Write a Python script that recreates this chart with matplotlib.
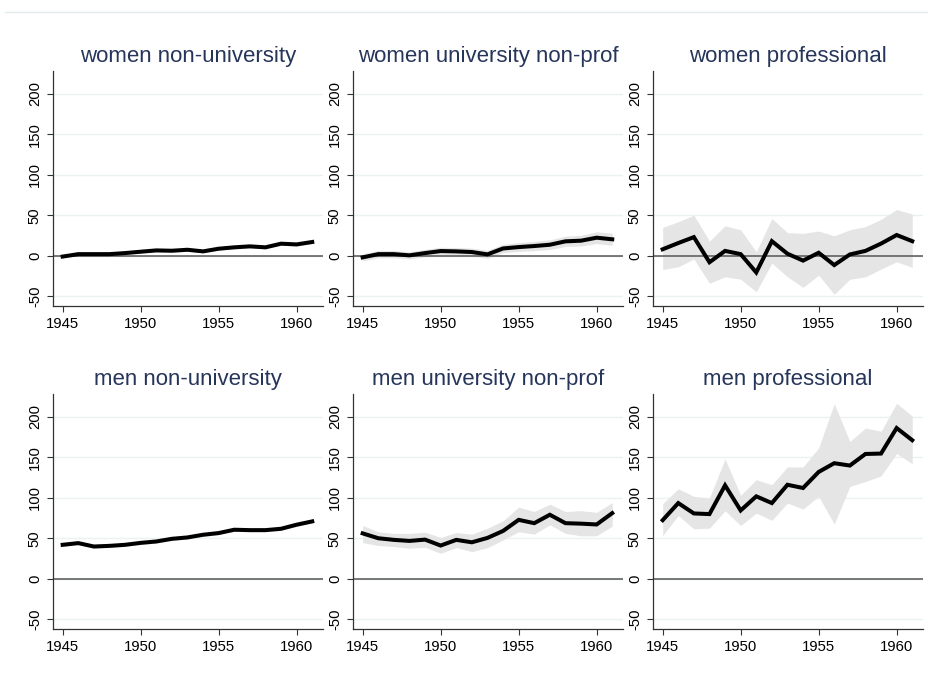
import matplotlib
matplotlib.use("Agg")
import matplotlib.pyplot as plt
from matplotlib.lines import Line2D

plt.rcParams['font.family'] = ['Liberation Sans', 'DejaVu Sans']

years = list(range(1945, 1962))

titles = ["women non-university", "women university non-prof", "women professional",
          "men non-university", "men university non-prof", "men professional"]

# women non-university
wnu_est = [-1, 2, 2, 2, 3.3, 5, 6.6, 6.2, 7.4, 5.4, 8.7, 10.4, 11.6, 10.4, 14.9, 14, 17]
wnu_lo = [-2.5, 0.5, 0.5, 0.5, 1.8, 3.5, 5, 4.6, 5.8, 3.8, 7, 8.6, 9.8, 8.6, 13, 12, 15]
wnu_hi = [0.5, 3.5, 3.5, 3.5, 4.8, 6.5, 8.2, 7.8, 9, 7, 10.4, 12.2, 13.4, 12.2, 16.8, 16, 19]

# women university non-prof
wun_est = [-2, 2, 2, 0.5, 3.3, 5.8, 5.4, 4.6, 1.7, 9, 10.7, 12, 13.6, 17.8, 18.6, 22.3, 20.3]
wun_lo = [-6.5, -2.5, -2.5, -4, -1.3, 1.2, 0.7, -0.2, -3.3, 3.8, 5.2, 6.3, 7.6, 11.5, 12, 15, 12.8]
wun_hi = [2.5, 6.5, 6.5, 5, 7.9, 10.4, 10.1, 9.4, 6.7, 14.2, 16.2, 17.7, 19.6, 24.1, 25.2, 29.6, 27.8]

# women professional
wp_est = [8, 15.7, 23, -8, 6, 2, -20.6, 18, 2.5, -6, 3.7, -11.5, 1.6, 6, 15, 25.6, 18]
wp_lo = [-17, -13.6, -4, -34, -26, -29, -44.5, -9, -26, -39, -24, -47.5, -29, -26, -16.5, -7.4, -14.4]
wp_hi = [35, 42, 50, 18, 37, 32, 5, 46, 28.5, 27.6, 30.5, 24.7, 32, 36, 45, 57, 51.5]

# men non-university
mnu_est = [41.9, 44, 39.8, 40.6, 41.9, 44.3, 46, 49.3, 51, 54.3, 56.4, 60.5, 60, 60, 61.7, 66.7, 70.8]
mnu_lo = [39.9, 42, 37.8, 38.6, 39.9, 42.3, 44, 47.3, 49, 52.3, 54.4, 58.5, 58, 58, 59.7, 64.7, 68.8]
mnu_hi = [43.9, 46, 41.8, 42.6, 43.9, 46.3, 48, 51.3, 53, 56.3, 58.4, 62.5, 62, 62, 63.7, 68.7, 72.8]

# men university non-prof
mun_est = [56, 50, 48, 46.7, 48.3, 41, 48, 45, 50.4, 59, 72.7, 68.6, 79, 68.6, 68, 67, 81]
mun_lo = [44.6, 41, 39.7, 37.6, 38.8, 31.4, 38.4, 33.5, 38.4, 48, 58, 55, 66.5, 56, 53, 53, 65]
mun_hi = [65.7, 58, 56, 56, 57.4, 51, 57, 55, 62.4, 71.5, 88.4, 83, 92, 83, 84, 82, 94]

# men professional
mp_est = [72.3, 93.4, 80.6, 79.8, 115.3, 84.3, 101.7, 93.4, 116, 112, 131.8, 142.6, 139.7, 154, 154.5, 186, 171]
mp_lo = [53.3, 78, 61.6, 62.4, 84, 65.7, 81, 72, 93.4, 86, 101.7, 67.4, 114, 120, 127, 154.5, 142]
mp_hi = [92.6, 111, 101.7, 99.6, 148, 103, 122.3, 116, 138, 138, 161.6, 216, 169.4, 186, 182, 216.5, 200.8]

estimates = [wnu_est, wun_est, wp_est, mnu_est, mun_est, mp_est]
lowers = [wnu_lo, wun_lo, wp_lo, mnu_lo, mun_lo, mp_lo]
uppers = [wnu_hi, wun_hi, wp_hi, mnu_hi, mun_hi, mp_hi]

xticks = [1945, 1950, 1955, 1960]
yticks = [-50, 0, 50, 100, 150, 200]

W, H = 929, 678
fig = plt.figure(figsize=(W / 100, H / 100), dpi=100)
fig.patch.set_facecolor('white')

# light frame line at the top
fig.add_artist(Line2D([5 / W, 1.0], [1 - 12 / H, 1 - 12 / H], color='#e3ebee', lw=1.0))

ax_w = 270
ax_h = 235
lefts = [53, 353, 653]
tops = [71, 394]

for i in range(6):
    r, c = divmod(i, 3)
    left = lefts[c]
    top = tops[r]
    ax = fig.add_axes([left / W, 1 - (top + ax_h) / H, ax_w / W, ax_h / H])
    ax.set_xlim(1944.38, 1961.69)
    ax.set_ylim(-62, 228)
    for yt in yticks:
        ax.axhline(yt, color='#eaf2f3', lw=1.0, zorder=0)
    ax.fill_between(years, lowers[i], uppers[i], color='#e5e5e5', lw=0, zorder=1)
    ax.axhline(0, color='#555555', lw=1.1, zorder=2)
    ax.plot(years, estimates[i], color='black', lw=2.9, zorder=3,
            solid_joinstyle='miter')
    for s in ['top', 'right']:
        ax.spines[s].set_visible(False)
    for s in ['left', 'bottom']:
        ax.spines[s].set_color('#333333')
        ax.spines[s].set_linewidth(0.9)
    ax.set_xticks(xticks)
    ax.set_xticklabels([str(x) for x in xticks])
    ax.set_yticks(yticks)
    ax.set_yticklabels([str(y) for y in yticks], rotation=90, va='center')
    ax.tick_params(axis='both', direction='out', length=4, width=0.8,
                   color='#333333', labelsize=10.7, labelcolor='black')
    ax.tick_params(axis='x', pad=4)
    ax.tick_params(axis='y', pad=4)
    fig.text((left + ax_w / 2) / W, 1 - (top - 14.5) / H, titles[i],
             ha='center', va='center', fontsize=16, color='#26355a')

fig.savefig('out.png', dpi=100, facecolor='white')
